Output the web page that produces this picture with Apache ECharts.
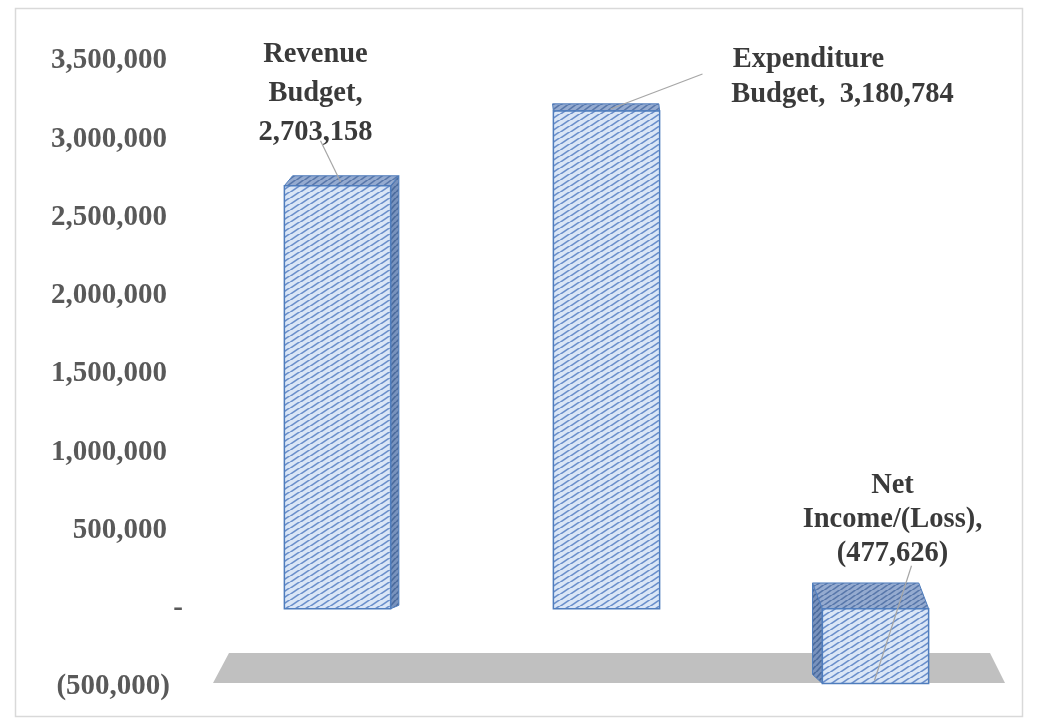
<!DOCTYPE html>
<html>
<head>
<meta charset="utf-8">
<script src="https://cdn.jsdelivr.net/npm/echarts@6/dist/echarts.min.js"></script>
<style>
html,body{margin:0;padding:0;background:#fff;}
#chart{width:1037px;height:725px;}
</style>
</head>
<body>
<div id="chart"></div>
<script>
// ---- data ----
const categories = ['Revenue Budget', 'Expenditure Budget', 'Net Income/(Loss)'];
const values = [2703158, 3180784, -477626];
const yMin = -500000;
const yMax = 3500000;
const yInterval = 500000;

// ---- helpers ----
function fmt(v) {
  if (v === 0) return '-';
  const s = Math.abs(v).toLocaleString('en-US');
  return v < 0 ? '(' + s + ')' : s;
}
function axisFmt(v) {
  if (v === 0) return '{d|-}';
  if (v < 0) return '{m|' + fmt(v) + '}';
  return '{p|' + fmt(v) + '}';
}

// label layout (positions relative to bar, style only)
const labelLayout = [
  { mode: 'block', dx: -22, dy: -92, lh: 39, lineFrom: [-17, -45], lineTo: [3, -4] },
  { mode: 'split', l1: [202, -51], l2: [236, -16], lineFrom: [96, -37], lineTo: [4, -2] },
  { mode: 'block', dx: 17, dy: -89, lh: 34, lineFrom: [36, -43], lineTo: [-1, -3], fromZero: true }
];

function makePattern(bg, fg, w, h, lw) {
  const c = document.createElement('canvas');
  c.width = w; c.height = h;
  const g = c.getContext('2d');
  g.fillStyle = bg; g.fillRect(0, 0, w, h);
  g.strokeStyle = fg; g.lineWidth = lw;
  for (let k = -1; k <= 1; k++) {
    g.beginPath();
    g.moveTo(k * w, h + 0.5);
    g.lineTo(k * w + w, -0.5);
    g.stroke();
  }
  return { image: c, repeat: 'repeat' };
}

const frontFill = makePattern('#dae6f6', '#6a8fcb', 10, 6, 1.5);
const topFill = makePattern('#95abd0', '#5877aa', 8, 5, 1.5);
const sideFill = makePattern('#7892bd', '#4a6a9c', 6, 6, 1.5);
const edge = '#4f7dbd';
const labelFont = 'bold 28.5px "Liberation Serif", "Times New Roman", serif';

const chart = echarts.init(document.getElementById('chart'));

function renderFloor(params, api) {
  const cs = params.coordSys;
  const yF = api.coord([0, yMin])[1] - 4;
  const xL = cs.x + 10, xR = cs.x + cs.width - 5;
  return {
    type: 'polygon',
    shape: { points: [[xL, yF], [xR, yF], [xR - 15, yF - 30], [xL + 16, yF - 30]] },
    style: { fill: '#c0c0c0' },
    z2: 0
  };
}

function renderBar(params, api) {
  const cs = params.coordSys;
  const i = api.value(0), v = api.value(1);
  const c0 = api.coord([i, 0]);
  const c1 = api.coord([i, v]);
  const cx = c0[0];
  const bw = api.size([1, 0])[0] * 0.395;
  const x0 = cx - bw / 2, x1 = cx + bw / 2;
  const yTop = Math.min(c0[1], c1[1]);
  const yBot = Math.max(c0[1], c1[1]);
  const vpx = cs.x + cs.width * 0.47;
  const vpy = cs.y - 140;
  const dx = 0.0336 * (vpx - cx);
  const dy = 0.0375 * (vpy - yTop);
  const children = [];
  // side face
  if (dx > 1) {
    children.push({ type: 'polygon', shape: { points: [[x1, yTop], [x1 + dx, yTop + dy], [x1 + dx, yBot + dy * 0.35], [x1, yBot]] },
      style: { fill: sideFill, stroke: edge, lineWidth: 1 } });
  } else if (dx < -1) {
    children.push({ type: 'polygon', shape: { points: [[x0, yTop], [x0 + dx, yTop + dy], [x0 + dx, yBot + dy * 0.35], [x0, yBot]] },
      style: { fill: sideFill, stroke: edge, lineWidth: 1 } });
  }
  // top face
  children.push({ type: 'polygon', shape: { points: [[x0, yTop], [x1, yTop], [x1 + dx, yTop + dy], [x0 + dx, yTop + dy]] },
    style: { fill: topFill, stroke: edge, lineWidth: 1 } });
  // front face
  children.push({ type: 'rect', shape: { x: x0, y: yTop, width: bw, height: yBot - yTop },
    style: { fill: frontFill, stroke: edge, lineWidth: 1.5 } });

  // label + leader
  const L = labelLayout[i];
  const yRef = L.fromZero ? c0[1] : yTop;
  const words = (categories[i] + ',').split(' ');
  const valTxt = fmt(values[i]);
  children.push({ type: 'line', shape: { x1: cx + L.lineFrom[0], y1: yRef + L.lineFrom[1], x2: cx + L.lineTo[0], y2: (L.fromZero ? yBot : yTop) + L.lineTo[1] },
    style: { stroke: '#a6a6a6', lineWidth: 1.2 } });
  if (L.mode === 'block') {
    const txt = words.concat([valTxt]).join('\n');
    children.push({ type: 'text', x: cx + L.dx, y: yRef + L.dy,
      style: { text: txt, font: labelFont, fill: '#3a3a3a', align: 'center', verticalAlign: 'middle', lineHeight: L.lh } });
  } else {
    children.push({ type: 'text', x: cx + L.l1[0], y: yTop + L.l1[1],
      style: { text: words[0], font: labelFont, fill: '#3a3a3a', align: 'center', verticalAlign: 'middle' } });
    children.push({ type: 'text', x: cx + L.l2[0], y: yTop + L.l2[1],
      style: { text: words.slice(1).join(' ') + '  ' + valTxt, font: labelFont, fill: '#3a3a3a', align: 'center', verticalAlign: 'middle' } });
  }
  return { type: 'group', children: children };
}

const axisFont = { color: '#595959', fontFamily: '"Liberation Serif", "Times New Roman", serif', fontWeight: 'bold', fontSize: 29 };

const option = {
  backgroundColor: '#ffffff',
  animation: false,
  graphic: [{
    type: 'rect', left: 13, top: 6, z: -10,
    shape: { width: 1007, height: 708 },
    style: { fill: 'none', stroke: '#d9d9d9', lineWidth: 1.5 }
  }],
  grid: { left: 203, right: 27, top: 61, bottom: 38 },
  xAxis: {
    type: 'category', data: categories,
    axisLine: { show: false }, axisTick: { show: false }, axisLabel: { show: false }, splitLine: { show: false }
  },
  yAxis: {
    type: 'value', min: yMin, max: yMax, interval: yInterval,
    axisLine: { show: false }, axisTick: { show: false }, splitLine: { show: false },
    axisLabel: Object.assign({
      formatter: axisFmt, margin: 8,
      rich: {
        p: Object.assign({ padding: [0, 28, 0, 0] }, axisFont),
        m: Object.assign({ padding: [0, 25, 0, 0] }, axisFont),
        d: Object.assign({ padding: [0, 12, 0, 0] }, axisFont)
      }
    }, axisFont)
  },
  series: [
    { type: 'custom', name: 'floor', renderItem: renderFloor, data: [[0, yMin]], z: 1, silent: true },
    { type: 'custom', name: 'bars', renderItem: renderBar, data: values.map((v, i) => [i, v]), z: 2 }
  ]
};
chart.setOption(option);
</script>
</body>
</html>
